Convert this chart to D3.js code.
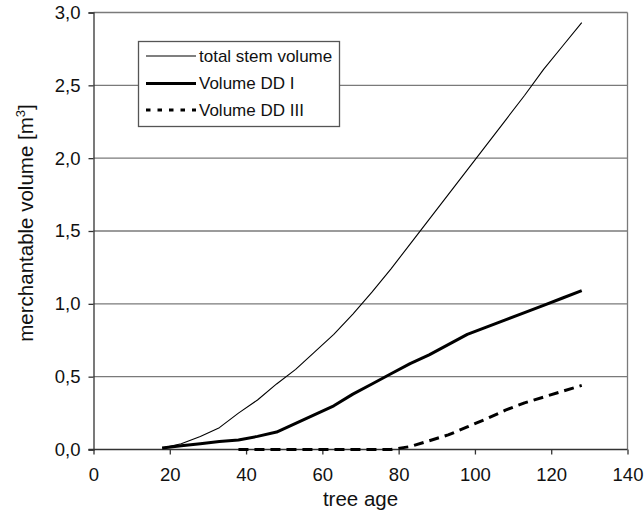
<!DOCTYPE html>
<html><head><meta charset="utf-8">
<script src="https://cdn.jsdelivr.net/npm/d3@7"></script>
<style>body{margin:0;background:#fff}svg{display:block}text{font-family:Arial,"Liberation Sans",sans-serif;fill:#111}</style>
</head><body><svg id="c" width="644" height="515"></svg>
<script>
const ages = [18,23,28,33,38,43,48,53,58,63,68,73,78,83,88,93,98,103,108,113,118,123,128];
const totalStem = [0.01,0.04,0.09,0.15,0.25,0.34,0.45,0.55,0.67,0.79,0.93,1.08,1.24,1.41,1.58,1.75,1.92,2.09,2.26,2.43,2.61,2.77,2.93];
const volDD1 = [0.01,0.025,0.04,0.055,0.065,0.09,0.12,0.18,0.24,0.30,0.38,0.45,0.52,0.59,0.65,0.72,0.79,0.84,0.89,0.94,0.99,1.04,1.09];
const volDD3 = [null,null,null,null,0,0,0,0,0,0,0,0,0,0.02,0.06,0.10,0.155,0.21,0.27,0.32,0.36,0.40,0.44];
const xTicks = [0,20,40,60,80,100,120,140];
const yTicks = [0,0.5,1.0,1.5,2.0,2.5,3.0];
const seriesNames = ["total stem volume","Volume DD I","Volume DD III"];

const svg = d3.select("#c");
const x = d3.scaleLinear().domain([0,140]).range([93.5,627.5]);
const y = d3.scaleLinear().domain([0,3]).range([449.5,12.5]);
const grid = "#7a7a7a";
const fmt = d => d3.format(".1f")(d).replace(".", ",");

// gridlines
svg.append("g").selectAll("line").data(yTicks.filter(d=>d>0)).join("line")
  .attr("x1", x(0)).attr("x2", x(140)).attr("y1", d=>y(d)).attr("y2", d=>y(d))
  .attr("stroke", grid).attr("stroke-width", 1.3);
// right border
svg.append("line").attr("x1", x(140)).attr("x2", x(140)).attr("y1", y(3)).attr("y2", y(0))
  .attr("stroke", grid).attr("stroke-width", 1.3);

// axes
const yAxis = svg.append("g").attr("transform", `translate(${x(0)},0)`)
  .call(d3.axisLeft(y).tickValues(yTicks).tickFormat(fmt).tickSize(5).tickPadding(8));
const xAxis = svg.append("g").attr("transform", `translate(0,${y(0)})`)
  .call(d3.axisBottom(x).tickValues(xTicks).tickFormat(d3.format("d")).tickSize(5).tickPadding(13));
[yAxis, xAxis].forEach(a => {
  a.select(".domain").attr("stroke", "#333").attr("stroke-width", 1.3);
  a.selectAll(".tick line").attr("stroke", "#333").attr("stroke-width", 1.3);
  a.selectAll("text").style("font-size", "18.5px").attr("fill", "#111");
});
xAxis.select(".domain").attr("d", `M${x(0)-5},0H${x(140)}`);

// axis titles
svg.append("text").attr("x", (x(0)+x(140))/2).attr("y", 506).attr("text-anchor","middle")
  .style("font-size","20.5px").text("tree age");
const yt = svg.append("text").attr("transform", `translate(33,${(y(0)+y(3))/2 - 8}) rotate(-90)`)
  .attr("text-anchor","middle").style("font-size","20.5px");
yt.append("tspan").text("merchantable volume [m");
yt.append("tspan").attr("dy", -8).style("font-size","13px").text("3");
yt.append("tspan").attr("dy", 8).text("]");

// lines
const line = d3.line().defined(d => d[1] !== null).x(d => x(d[0])).y(d => y(d[1]));
const series = [
  {vals: totalStem, w: 1.1, dash: null},
  {vals: volDD1, w: 3, dash: null},
  {vals: volDD3, w: 3, dash: "10,6"}
];
series.forEach(s => {
  svg.append("path").datum(ages.map((a,i)=>[a, s.vals[i]]))
    .attr("d", line).attr("fill","none").attr("stroke","#000")
    .attr("stroke-width", s.w).attr("stroke-dasharray", s.dash)
    .attr("stroke-linejoin","round");
});

// legend
const lg = svg.append("g");
lg.append("rect").attr("x", 138.5).attr("y", 41.5).attr("width", 201).attr("height", 85)
  .attr("fill","#fff").attr("stroke", "#555").attr("stroke-width", 1.3);
const legendStyles = [{w:1.1,dash:null},{w:3,dash:null},{w:3,dash:"4.5,7"}];
const rowY = [56, 83.5, 110];
seriesNames.forEach((n,i) => {
  lg.append("line").attr("x1", 146).attr("x2", 196).attr("y1", rowY[i]).attr("y2", rowY[i])
    .attr("stroke","#000").attr("stroke-width", legendStyles[i].w)
    .attr("stroke-dasharray", legendStyles[i].dash);
  lg.append("text").attr("x", 199).attr("y", rowY[i]).attr("dy","0.35em")
    .style("font-size","17px").text(n);
});
</script></body></html>
